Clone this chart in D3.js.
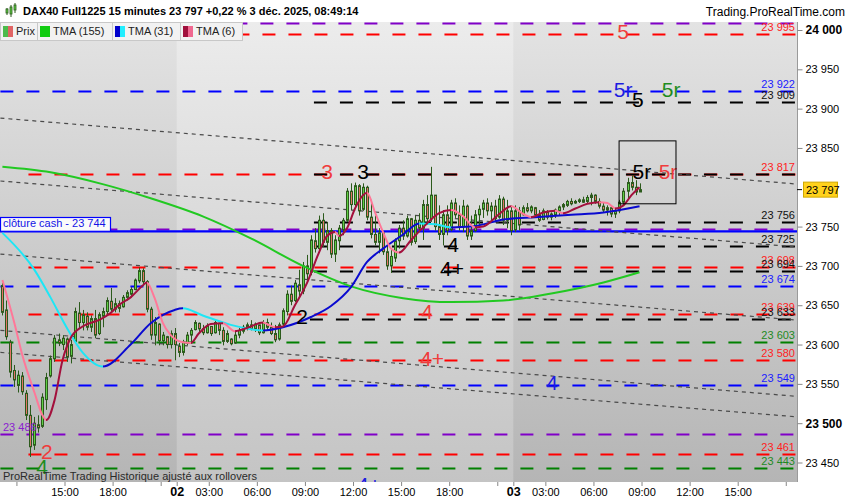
<!DOCTYPE html>
<html>
<head>
<meta charset="utf-8">
<script src="https://cdn.jsdelivr.net/npm/d3@7"></script>
<style>
body{margin:0;background:#fff;}
svg{display:block;font-family:"Liberation Sans",Arial,sans-serif;}
</style>
</head>
<body>
<script>
// ---- data ----
// one row per 15 min bar: [open, high, low, close]; bar 0 = 1 Dec 11:00
var candles = [
[23675,23678,23637,23641],[23644,23656,23606,23610],[23603,23606,23558,23565],[23567,23574,23546,23555],
[23548,23567,23539,23561],[23560,23565,23536,23540],[23538,23542,23504,23510],[23510,23523,23457,23470],
[23472,23508,23466,23500],[23498,23510,23488,23494],[23496,23538,23494,23533],[23530,23564,23517,23558],
[23560,23586,23558,23582],[23582,23612,23578,23608],[23606,23614,23598,23602],[23600,23612,23593,23608],
[23607,23609,23578,23584],[23585,23606,23576,23600],[23604,23647,23603,23642],[23640,23654,23621,23628],
[23628,23644,23618,23638],[23636,23641,23618,23622],[23622,23637,23616,23633],[23633,23644,23608,23612],
[23614,23641,23612,23638],[23636,23647,23622,23642],[23642,23660,23637,23656],[23655,23672,23640,23645],
[23645,23659,23641,23652],[23652,23656,23641,23646],[23648,23663,23647,23660],[23660,23669,23656,23666],
[23664,23673,23660,23670],[23670,23684,23669,23682],[23681,23698,23678,23694],[23694,23697,23675,23680],
[23680,23682,23641,23645],[23645,23648,23606,23612],[23612,23635,23599,23628],[23626,23627,23599,23605],
[23605,23616,23599,23612],[23610,23611,23595,23600],[23600,23618,23595,23614],[23614,23621,23580,23600],
// 2 Dec
[23598,23602,23584,23590],[23590,23606,23586,23603],[23602,23616,23599,23612],[23612,23621,23603,23618],
[23619,23631,23618,23628],[23627,23628,23616,23620],[23620,23625,23612,23615],[23615,23627,23614,23624],
[23623,23623,23611,23614],[23615,23631,23614,23628],[23627,23628,23612,23618],[23618,23622,23599,23604],
[23604,23618,23602,23614],[23607,23608,23599,23601],[23602,23616,23601,23612],[23612,23621,23608,23618],
[23617,23625,23614,23622],[23622,23628,23618,23625],[23625,23631,23618,23620],[23620,23628,23616,23626],
[23625,23625,23612,23615],[23615,23631,23614,23628],[23628,23633,23618,23622],[23622,23628,23612,23614],
[23614,23625,23603,23606],[23607,23628,23605,23625],[23626,23646,23623,23643],[23642,23669,23637,23664],
[23664,23675,23650,23655],[23656,23682,23654,23678],[23676,23695,23660,23668],[23668,23705,23664,23700],
[23700,23714,23682,23690],[23692,23739,23688,23733],[23732,23748,23717,23722],[23722,23764,23720,23758],
[23758,23767,23724,23730],[23730,23756,23720,23745],[23745,23748,23710,23715],[23715,23739,23705,23733],
[23732,23752,23720,23748],[23746,23761,23739,23758],[23758,23799,23756,23795],[23795,23805,23771,23778],
[23778,23806,23773,23802],[23802,23804,23764,23770],[23772,23805,23770,23800],[23800,23802,23758,23762],
[23762,23784,23735,23740],[23740,23764,23726,23730],[23730,23748,23716,23742],[23742,23743,23714,23718],
[23718,23726,23695,23700],[23700,23720,23691,23712],[23710,23735,23705,23732],[23732,23752,23722,23748],
[23748,23758,23733,23738],[23738,23764,23736,23760],[23760,23761,23726,23730],[23731,23764,23728,23758],
[23758,23767,23743,23748],[23748,23784,23733,23778],[23778,23790,23752,23760],[23760,23826,23756,23790],
[23790,23790,23745,23750],[23750,23777,23733,23740],[23740,23771,23726,23765],[23765,23777,23739,23745],
[23746,23784,23744,23780],[23780,23786,23761,23765],[23765,23777,23745,23750],[23750,23784,23743,23776],
[23776,23778,23733,23738],[23738,23764,23733,23745],[23745,23771,23743,23765],[23765,23777,23752,23772],
[23772,23784,23761,23780],[23780,23786,23764,23770],[23770,23781,23758,23776],[23776,23784,23756,23760],
[23762,23790,23760,23785],[23785,23788,23752,23758],[23758,23784,23748,23770],[23770,23777,23739,23745],
// 3 Dec
[23746,23777,23743,23770],[23770,23775,23745,23752],[23765,23777,23764,23774],[23774,23780,23768,23770],
[23770,23777,23767,23775],[23774,23775,23762,23765],[23765,23771,23756,23758],[23759,23773,23758,23770],
[23769,23771,23759,23762],[23762,23768,23758,23766],[23765,23773,23761,23771],[23770,23777,23764,23775],
[23775,23780,23771,23778],[23777,23784,23775,23782],[23782,23786,23777,23779],[23780,23784,23779,23782],
[23782,23786,23780,23784],[23784,23788,23780,23781],[23782,23790,23780,23787],[23787,23793,23777,23790],
[23790,23791,23779,23782],[23782,23786,23773,23776],[23776,23781,23768,23771],[23771,23777,23764,23774],
[23774,23777,23762,23766],[23766,23773,23761,23770],[23770,23784,23767,23781],[23781,23799,23777,23795],
[23795,23812,23786,23806],[23806,23815,23796,23800],[23800,23809,23790,23794],[23794,23805,23794,23797]
];

// moving averages: [bar, value]
var tma155 = [[0,23826],[12,23819],[25,23804],[37,23786],[50,23763],[62,23735],[75,23700],[87,23674],
  [100,23659],[112,23654],[125,23656],[137,23665],[150,23679],[159,23692]];
var tma31 = [[0,23742],[8,23695],[12,23660],[16,23622],[20,23590],[25,23572],[32,23600],[37,23627],
  [43,23644],[45,23646],[50,23637],[57,23625],[65,23618],[70,23622],[77,23635],[82,23649],[87,23673],
  [91,23705],[95,23722],[100,23740],[104,23754],[108,23753],[112,23749],[117,23750],[125,23759],
  [133,23762],[142,23765],[150,23768],[159,23776]];
var tma6 = [[0,23682],[3,23627],[5,23586],[8,23539],[10,23510],[11,23504],[13,23529],[15,23580],
  [17,23608],[20,23623],[24,23631],[27,23640],[29,23650],[32,23660],[35,23675],[36,23679],[38,23659],
  [40,23628],[42,23612],[45,23603],[47,23602],[49,23614],[52,23626],[55,23627],[58,23617],[61,23621],
  [65,23628],[68,23622],[70,23623],[73,23650],[76,23678],[79,23717],[81,23738],[83,23743],[84,23738],
  [86,23748],[88,23773],[90,23790],[91,23793],[93,23768],[95,23743],[97,23722],[99,23717],[102,23733],
  [105,23749],[109,23767],[112,23771],[115,23763],[118,23749],[120,23750],[124,23766],[127,23776],
  [130,23766],[132,23762],[135,23768],[138,23770],[140,23767],[143,23773],[146,23779],[149,23781],
  [151,23780],[153,23773],[155,23777],[157,23790],[159,23800]];

// horizontal levels
var levelPrice = [24009,23995,23922,23909,23817,23817,23756,23747,23725,23698,23694,23674,23639,23633,23603,23580,23549,23486,23461,23443];
var levelKind  = ["p","r","b","k","r","k","k","p","k","r","k","b","r","k","g","r","b","p","r","g"];
var levelFrom  = [0,7,0,75,7,75,75,0,75,7,75,0,7,74,0,7,0,0,7,0];
var levelSide  = ["","right","right","right","right","","right","","right","right","right","right","right","right","right","right","right","left","right","right"];
var cashClose = 23744;

// dotted trend lines (bar 0 -> bar 199)
var trendStart = [23888,23808,23715,23618,23590];
var trendEnd   = [23804,23724,23631,23534,23508];

// wave labels
var annText  = ["5","5r","5","5r","3","3","5r","5r","4","4+","2","4","4+","4","2","4","4+"];
var annKind  = ["r","b","k","g","r","k","k","r","k","k","k","r","r","b","r","g","b"];
var annBar   = [155.4,155.4,159.1,167.4,81.5,90.5,160.1,166.6,113,112.7,75.3,106.5,107.7,137.7,11.6,10.4,92];
var annLevel = [23995,23922,23909,23922,23817,23817,23817,23817,23725,23694,23633,23639,23580,23549,23461,23443,23420];

var boxBars = [154.4,168.6], boxPrices = [23859,23779];

var dayStart = [0,44,128], dayEnd = [44,128,199];
var tickBars = [4,16,28,40,44,52,64,76,88,100,112,124,128,136,148,160,172,184,196];
var tickText = ["","15:00","18:00","","02","03:00","06:00","09:00","12:00","15:00","18:00","","03","03:00","06:00","09:00","12:00","15:00",""];
var priceTicks = [23450,23500,23550,23600,23650,23700,23750,23850,23900,23950,24000];
var lastPrice = 23797;

// ---- drawing ----
var W = 850, H = 500;
var P = {l:0, r:797, t:22, b:482};
var lineCol = {r:"#ff0000", b:"#0000ff", k:"#000000", g:"#008000", p:"#8000c8"};
var textCol = {r:"#ff2222", b:"#1a1aff", k:"#111111", g:"#1f8a1f", p:"#8a20d0"};
var annCol  = {r:"#f03c3c", b:"#1c1ce0", k:"#000000", g:"#1e8c1e"};

var fmt = d3.formatLocale({decimal:",", thousands:"\u00a0", grouping:[3], currency:["",""]}).format(",d");

var x = d3.scaleLinear().domain([0,199]).range([0.4,797.8]);
var y = d3.scaleLinear().domain([23450,24000]).range([462.5,30]);
var cx = function(i){ return x(i + 0.5); };

var svg = d3.select("body").append("svg").attr("width",W).attr("height",H);
var defs = svg.append("defs");
defs.append("clipPath").attr("id","plotClip").append("rect")
  .attr("x",P.l).attr("y",P.t).attr("width",P.r-P.l).attr("height",P.b-P.t);

function vGrad(id, top, bottom){
  var g = defs.append("linearGradient").attr("id",id).attr("x1",0).attr("x2",0).attr("y1",0).attr("y2",1);
  g.append("stop").attr("offset",0).attr("stop-color",top);
  g.append("stop").attr("offset",1).attr("stop-color",bottom);
}
vGrad("bgA","#e3e3e3","#b5b5b5");
vGrad("bgB","#ececec","#c4c4c4");

svg.append("rect").attr("width",W).attr("height",H).attr("fill","#fff");

var plot = svg.append("g").attr("clip-path","url(#plotClip)");

plot.selectAll(".day").data(dayStart).enter().append("rect")
  .attr("x",function(d,i){ return i === 0 ? P.l : x(d); })
  .attr("y",P.t)
  .attr("width",function(d,i){ return x(dayEnd[i]) - (i === 0 ? P.l : x(d)) + 1; })
  .attr("height",P.b-P.t)
  .attr("fill",function(d,i){ return i % 2 ? "url(#bgB)" : "url(#bgA)"; });

// level lines
plot.selectAll(".lvl").data(levelPrice).enter().append("line")
  .attr("x1",function(d,i){ return x(levelFrom[i]); })
  .attr("x2",P.r)
  .attr("y1",function(d){ return Math.round(y(d)) + 0.5; })
  .attr("y2",function(d){ return Math.round(y(d)) + 0.5; })
  .attr("stroke",function(d,i){ return lineCol[levelKind[i]]; })
  .attr("stroke-width",2.2)
  .attr("stroke-dasharray","13,13")
  .attr("stroke-dashoffset",function(d,i){ return levelKind[i] === "k" ? 13 : 0; });

// cash close
plot.append("line").attr("x1",P.l).attr("x2",P.r)
  .attr("y1",y(cashClose)).attr("y2",y(cashClose))
  .attr("stroke","#0000ff").attr("stroke-width",2.2);

// trend lines
plot.selectAll(".trend").data(trendStart).enter().append("line")
  .attr("x1",x(0)).attr("x2",x(199))
  .attr("y1",function(d){ return y(d); })
  .attr("y2",function(d,i){ return y(trendEnd[i]); })
  .attr("stroke","#4a4a4a").attr("stroke-width",1.2).attr("stroke-dasharray","4,4");

// candles
var cg = plot.append("g");
cg.selectAll(".wick").data(candles).enter().append("line")
  .attr("x1",function(d,i){ return Math.round(cx(i)) + 0.5; })
  .attr("x2",function(d,i){ return Math.round(cx(i)) + 0.5; })
  .attr("y1",function(d){ return y(d[1]); })
  .attr("y2",function(d){ return y(d[2]); })
  .attr("stroke","#2c5a1c").attr("stroke-width",1);
cg.selectAll(".body").data(candles).enter().append("rect")
  .attr("x",function(d,i){ return Math.round(cx(i)) - 0.5; })
  .attr("width",2)
  .attr("y",function(d){ return y(Math.max(d[0],d[3])); })
  .attr("height",function(d){ return Math.max(1, Math.abs(y(d[0]) - y(d[3]))); })
  .attr("fill",function(d){ return d[3] >= d[0] ? "#5fcf45" : "#e27466"; })
  .attr("stroke","#2c5a1c").attr("stroke-width",1);

// moving averages, coloured by slope
function slopeGrad(id, pts, upCol, downCol){
  var x0 = cx(pts[0][0]), x1 = cx(pts[pts.length-1][0]);
  var g = defs.append("linearGradient").attr("id",id).attr("gradientUnits","userSpaceOnUse")
    .attr("x1",x0).attr("x2",x1).attr("y1",0).attr("y2",0);
  for (var k = 0; k < pts.length - 1; k++){
    var col = pts[k+1][1] >= pts[k][1] ? upCol : downCol;
    g.append("stop").attr("offset",(cx(pts[k][0]) - x0)/(x1 - x0)).attr("stop-color",col);
    g.append("stop").attr("offset",(cx(pts[k+1][0]) - x0)/(x1 - x0)).attr("stop-color",col);
  }
}
slopeGrad("g31", tma31, "#0a0ad0", "#1ee6f5");
slopeGrad("g6", tma6, "#a3103c", "#ff7898");

var maLine = d3.line().x(function(d){ return cx(d[0]); }).y(function(d){ return y(d[1]); })
  .curve(d3.curveMonotoneX);
plot.append("path").attr("d",maLine(tma155)).attr("fill","none").attr("stroke","#22c922").attr("stroke-width",2);
plot.append("path").attr("d",maLine(tma31)).attr("fill","none").attr("stroke","url(#g31)").attr("stroke-width",2);
plot.append("path").attr("d",maLine(tma6)).attr("fill","none").attr("stroke","url(#g6)").attr("stroke-width",2);

// wave labels
plot.selectAll(".ann").data(annText).enter().append("text")
  .attr("x",function(d,i){ return x(annBar[i]); })
  .attr("y",function(d,i){ return y(annLevel[i]) - 2; })
  .attr("text-anchor","middle").attr("dominant-baseline","central")
  .attr("font-size",21)
  .attr("fill",function(d,i){ return annCol[annKind[i]]; })
  .text(function(d){ return d; });

plot.append("rect")
  .attr("x",x(boxBars[0])).attr("y",y(boxPrices[0]))
  .attr("width",x(boxBars[1]) - x(boxBars[0]))
  .attr("height",y(boxPrices[1]) - y(boxPrices[0]))
  .attr("fill","none").attr("stroke","#000").attr("stroke-width",1);

// level values
plot.selectAll(".lvlTxt").data(levelPrice.filter(function(d,i){ return levelSide[i]; })).enter().append("text")
  .each(function(d){
    var i = levelPrice.indexOf(d);
    while (!levelSide[i]) i = levelPrice.indexOf(d, i + 1);
    var left = levelSide[i] === "left";
    d3.select(this)
      .attr("x", left ? 3 : 795)
      .attr("y", y(d) - 3)
      .attr("text-anchor", left ? "start" : "end")
      .attr("fill", textCol[levelKind[i]]);
  })
  .attr("font-size",11)
  .text(function(d){ return fmt(d); });

// cash close box
plot.append("rect").attr("x",0.5).attr("y",217.5).attr("width",110).attr("height",y(cashClose) - 217.5)
  .attr("fill","#fafafa").attr("stroke","#0000ff").attr("stroke-width",1.2);
plot.append("text").attr("x",3).attr("y",y(cashClose) - 4).attr("font-size",11).attr("fill","#1414e6")
  .text("cl\u00f4ture cash -  " + fmt(cashClose));

plot.append("text").attr("x",3).attr("y",P.b - 2).attr("font-size",11).attr("fill","#2a2a2a")
  .text("ProRealTime Trading  Historique ajust\u00e9 aux rollovers");

// right border + price axis
svg.append("line").attr("x1",P.r + 0.5).attr("x2",P.r + 0.5).attr("y1",P.t).attr("y2",P.b)
  .attr("stroke","#9a9a9a");
var yAxis = svg.append("g").attr("transform","translate(" + (P.r + 0.5) + ",0)")
  .call(d3.axisRight(y).tickValues(priceTicks).tickSize(5).tickPadding(3).tickFormat(fmt));
yAxis.select(".domain").remove();
yAxis.selectAll(".tick line").attr("stroke","#888");
yAxis.selectAll(".tick text")
  .attr("font-family","Liberation Sans, Arial, sans-serif").attr("fill","#000")
  .attr("font-size",function(d){ return d % 500 === 0 ? 12 : 11; })
  .attr("font-weight",function(d){ return d % 500 === 0 ? "bold" : "normal"; });

// last price tag
svg.append("line").attr("x1",P.r).attr("x2",P.r + 5).attr("y1",y(lastPrice)).attr("y2",y(lastPrice)).attr("stroke","#000");
svg.append("rect").attr("x",803.5).attr("y",y(lastPrice) - 7.5).attr("width",34).attr("height",15)
  .attr("fill","#ffd21c").attr("stroke","#d0a800");
svg.append("text").attr("x",806).attr("y",y(lastPrice) + 4).attr("font-size",11).attr("fill","#000")
  .text(fmt(lastPrice));

// time axis
var xAxis = svg.append("g").attr("transform","translate(0," + P.b + ")")
  .call(d3.axisBottom(x).tickValues(tickBars).tickSize(4).tickPadding(2)
    .tickFormat(function(d,i){ return tickText[i]; }));
xAxis.select(".domain").remove();
xAxis.selectAll(".tick line").attr("stroke","#888");
xAxis.selectAll(".tick text")
  .attr("font-family","Liberation Sans, Arial, sans-serif").attr("fill","#000")
  .attr("font-size",function(d,i){ return tickText[i].length === 2 ? 12.5 : 11; })
  .attr("font-weight",function(d,i){ return tickText[i].length === 2 ? "bold" : "normal"; })
  .attr("dy",function(d,i){ return tickText[i].length === 2 ? "0.66em" : "0.71em"; });

// header
svg.append("rect").attr("width",W).attr("height",P.t).attr("fill","#fff");
var icon = svg.append("g");
[[6,8,15,9,13],[10,5,17,7,14],[14,3,13,5,10]].forEach(function(c){
  icon.append("line").attr("x1",c[0]+1).attr("x2",c[0]+1).attr("y1",c[1]).attr("y2",c[2]).attr("stroke","#2c5a1c");
  icon.append("rect").attr("x",c[0]).attr("y",c[3]).attr("width",2).attr("height",c[4]-c[3])
    .attr("fill","#5fcf45").attr("stroke","#2c5a1c").attr("stroke-width",0.8);
});
svg.append("text").attr("x",23).attr("y",15).attr("font-size",11).attr("font-weight","bold").attr("fill","#000")
  .text("DAX40 Full1225 15 minutes 23\u00a0797 +0,22 % 3 d\u00e9c. 2025, 08:49:14");
svg.append("text").attr("x",845).attr("y",16).attr("font-size",12).attr("text-anchor","end").attr("fill","#000")
  .text("Trading.ProRealTime.com");

// legend
var legNames = ["Prix","TMA (155)","TMA (31)","TMA (6)"];
var legSwatch = [["#4cbb4c","#e06464"],["#11cc11","#11cc11"],["#0000cc","#22eeff"],["#a0103c","#f06890"]];
var legX = [0,37,112,180], legW = [37,75,68,62];
var leg = svg.append("g");
legNames.forEach(function(n,i){
  leg.append("rect").attr("x",legX[i] + 0.5).attr("y",P.t + 0.5).attr("width",legW[i]).attr("height",18)
    .attr("fill","#f2f2f2").attr("stroke","#c8c8c8");
  leg.append("rect").attr("x",legX[i] + 3).attr("y",P.t + 4).attr("width",5).attr("height",11).attr("fill",legSwatch[i][0]);
  leg.append("rect").attr("x",legX[i] + 8).attr("y",P.t + 4).attr("width",5).attr("height",11).attr("fill",legSwatch[i][1]);
  leg.append("text").attr("x",legX[i] + 16).attr("y",P.t + 13).attr("font-size",11).attr("fill","#222").text(n);
});
</script>
</body>
</html>
